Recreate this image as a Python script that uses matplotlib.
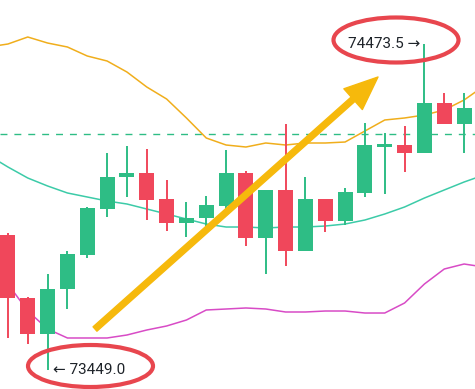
import matplotlib
matplotlib.use("Agg")
import matplotlib.pyplot as plt
from matplotlib.patches import Ellipse, FancyArrowPatch
import numpy as np

# candle data
opens = [73873.3, 73675.3, 73562.1, 73703.6, 73810.4, 73955.0, 74055.5, 74068.1,
         73986.4, 73911.0, 73926.7, 73964.4, 74068.1, 73863.8, 74014.7, 73823.0,
         73986.4, 73917.3, 74005.3, 74149.8, 74156.1, 74131.0, 74288.1, 74222.1]
highs = [73880.0, 73678.4, 73750.7, 73823.0, 73961.3, 74131.0, 74153.0, 74143.5,
         74046.1, 73977.0, 73995.8, 74140.4, 74074.4, 74014.7, 74222.1, 74055.5,
         73986.4, 74021.0, 74225.2, 74193.8, 74215.8, 74473.5, 74319.5, 74319.5]
lows = [73549.6, 73530.7, 73449.0, 73640.7, 73801.0, 73929.8, 73992.7, 73920.4,
        73885.8, 73867.0, 73895.3, 73951.8, 73838.7, 73750.7, 73775.8, 73823.0,
        73882.7, 73904.7, 73992.7, 74002.1, 74071.2, 74131.0, 74222.1, 74131.0]
closes = [73675.3, 73562.1, 73703.6, 73813.6, 73958.1, 74055.5, 74068.1, 73983.3,
          73911.0, 73926.7, 73967.5, 74068.1, 73863.8, 74014.7, 73823.0, 73986.4,
          73917.3, 74008.4, 74156.1, 74159.2, 74131.0, 74288.1, 74222.1, 74272.4]

# bollinger bands, one bar beyond each edge of the view
boll_up = [74464.1, 74473.5, 74495.5, 74476.6, 74464.1, 74435.8, 74420.1, 74385.5, 74338.4,
           74300.7, 74241.0, 74178.1, 74156.1, 74149.8, 74162.4, 74156.1, 74162.4,
           74162.4, 74165.5, 74200.1, 74234.7, 74241.0, 74250.4, 74266.1, 74297.5, 74341.5]
boll_mid = [74124.7, 74087.0, 74052.4, 74027.3, 74005.3, 73992.7, 73980.1, 73970.7, 73955.0,
            73939.3, 73923.5, 73907.8, 73898.4, 73898.4, 73895.3, 73898.4, 73898.4,
            73901.5, 73907.8, 73920.4, 73939.3, 73961.3, 73989.5, 74014.7, 74039.8, 74061.8]
boll_dn = [73779.0, 73719.3, 73634.4, 73577.9, 73549.6, 73549.6, 73549.6, 73559.0, 73574.7,
           73587.3, 73606.1, 73637.6, 73640.7, 73643.9, 73640.7, 73631.3, 73631.3,
           73634.4, 73634.4, 73628.1, 73628.1, 73659.6, 73719.3, 73766.4, 73782.1, 73772.7]

last_price = 74190.7
high_label = "74473.5"
low_label = "73449.0"

GREEN = "#2EBD85"
RED = "#F0475B"

fig = plt.figure(figsize=(4.75, 3.89), dpi=100)
ax = fig.add_axes([0, 0, 1, 1])
ax.set_axis_off()

x = np.arange(len(opens))
bx = np.arange(-1, len(opens) + 1)
o = np.array(opens)
c = np.array(closes)
colors = [GREEN if cc >= oo else RED for oo, cc in zip(o, c)]

# bands
ax.plot(bx, boll_up, color="#F0AE1C", lw=1.1, zorder=2)
ax.plot(bx, boll_mid, color="#3CCBA8", lw=1.1, zorder=2)
ax.plot(bx, boll_dn, color="#D84BC6", lw=1.1, zorder=2)

# candles
ax.vlines(x, lows, highs, colors=colors, lw=1.4, zorder=3)
ax.bar(x, np.abs(c - o), bottom=np.minimum(o, c), width=0.76, color=colors, zorder=3)

# last price line
ax.axhline(last_price, color=GREEN, lw=1, ls=(0, (5, 5)), zorder=1)

ax.set_xlim(-0.40, 23.55)
ax.set_ylim(73389.3, 74611.8)

# high / low labels
fam = ["Roboto", "DejaVu Sans"]
ax.annotate(high_label + " →", xy=(21, 74473.5), xytext=(-3, 0), textcoords="offset points",
            ha="right", va="center", fontsize=11, family=fam, color="#1E2329", zorder=5)
ax.annotate("← " + low_label, xy=(2, 73449.0), xytext=(4, 0), textcoords="offset points",
            ha="left", va="center", fontsize=11, family=fam, color="#1E2329", zorder=5)

# red ellipses
for cx, cy, w, h in [(396 / 475, 1 - 40 / 389, 125 / 475, 45 / 389),
                     (90.5 / 475, 1 - 366 / 389, 125 / 475, 42 / 389)]:
    ax.add_patch(Ellipse((cx, cy), w, h, transform=ax.transAxes, fill=False,
                         ec="#E8464E", lw=3, zorder=6, clip_on=False))

# big yellow arrow
arrow = FancyArrowPatch((95 / 475, 1 - 329 / 389), (378 / 475, 1 - 77 / 389),
                        transform=ax.transAxes,
                        arrowstyle="simple,head_length=24,head_width=20,tail_width=4.2",
                        mutation_scale=1, shrinkA=0, shrinkB=0,
                        color="#F6B90C", zorder=7)
ax.add_patch(arrow)

fig.savefig("out.png", dpi=100, facecolor="white")
